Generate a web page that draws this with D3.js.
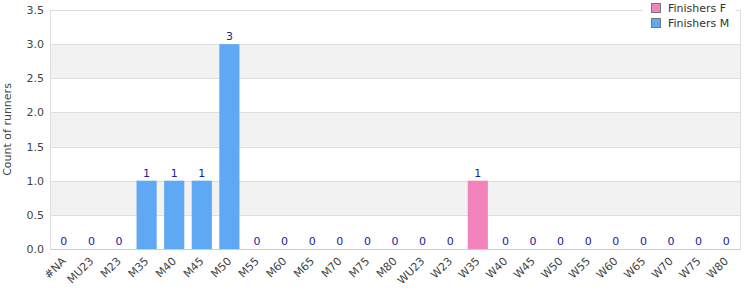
<!DOCTYPE html>
<html>
<head>
<meta charset="utf-8">
<script src="https://cdn.jsdelivr.net/npm/d3@7"></script>
<style>
  body { margin: 0; background: #fff; }
  text { font-family: "DejaVu Sans", sans-serif; }
</style>
</head>
<body>
<div id="chart"></div>
<script>
var categories = ['#NA', 'MU23', 'M23', 'M35', 'M40', 'M45', 'M50', 'M55', 'M60', 'M65', 'M70', 'M75', 'M80',
                  'WU23', 'W23', 'W35', 'W40', 'W45', 'W50', 'W55', 'W60', 'W65', 'W70', 'W75', 'W80'];
var finishersF = [0, 0, 0, 0, 0, 0, 0, 0, 0, 0, 0, 0, 0, 0, 0, 1, 0, 0, 0, 0, 0, 0, 0, 0, 0];
var finishersM = [0, 0, 0, 1, 1, 1, 3, 0, 0, 0, 0, 0, 0, 0, 0, 0, 0, 0, 0, 0, 0, 0, 0, 0, 0];
var yTicks = [0, 0.5, 1, 1.5, 2, 2.5, 3, 3.5];
var seriesNames = ['Finishers F', 'Finishers M'];
var seriesColors = ['#f283bb', '#5fa8f3'];

var width = 750, height = 300;
var margin = {top: 10, right: 10, bottom: 51, left: 50};
var chartW = width - margin.left - margin.right;
var chartH = height - margin.top - margin.bottom;

var svg = d3.select('#chart').append('svg')
    .attr('width', width).attr('height', height);
var inner = svg.append('g')
    .attr('transform', 'translate(' + margin.left + ',' + margin.top + ')');

var x = d3.scaleBand().domain(categories).range([0, chartW]).paddingInner(0.27).paddingOuter(0.135);
var y = d3.scaleLinear().domain([0, 3.5]).range([chartH, 0]);

// alternating bands
for (var i = 0; i < yTicks.length - 1; i++) {
  if (i % 2 === 1) {
    inner.append('rect')
      .attr('x', 0).attr('width', chartW)
      .attr('y', y(yTicks[i + 1])).attr('height', y(yTicks[i]) - y(yTicks[i + 1]))
      .attr('fill', '#f2f2f2');
  }
}

// grid lines
inner.append('g').selectAll('line').data(yTicks).enter().append('line')
  .attr('x1', 0).attr('x2', chartW)
  .attr('y1', function(d) { return Math.round(y(d)) + 0.5; })
  .attr('y2', function(d) { return Math.round(y(d)) + 0.5; })
  .attr('stroke', '#dedede');

// plot border
inner.append('rect')
  .attr('x', 0.5).attr('y', 0.5).attr('width', chartW).attr('height', chartH)
  .attr('fill', 'none').attr('stroke', '#dedede');

// stacked bars
var rows = categories.map(function(c, i) { return {cat: c, F: finishersF[i], M: finishersM[i]}; });
var stack = d3.stack().keys(['F', 'M'])(rows);
inner.append('g').selectAll('g').data(stack).enter().append('g')
  .attr('fill', function(d, i) { return seriesColors[i]; })
  .selectAll('rect').data(function(d) { return d; }).enter().append('rect')
  .attr('x', function(d) { return x(d.data.cat); })
  .attr('width', x.bandwidth())
  .attr('y', function(d) { return y(d[1]); })
  .attr('height', function(d) { return y(d[0]) - y(d[1]); });

// totals
inner.append('g').selectAll('text').data(rows).enter().append('text')
  .attr('x', function(d) { return x(d.cat) + x.bandwidth() / 2; })
  .attr('y', function(d) { return y(d.F + d.M) - 4; })
  .attr('text-anchor', 'middle')
  .attr('font-size', 11)
  .attr('fill', '#1a1a9c')
  .text(function(d) { return d.F + d.M; });

// y axis
var yAxis = d3.axisLeft(y).tickValues(yTicks).tickSize(0).tickPadding(6).tickFormat(d3.format('.1f'));
var gy = inner.append('g').call(yAxis);
gy.select('.domain').remove();
gy.selectAll('text').attr('font-size', 11).attr('fill', '#444').style('font-family', '"DejaVu Sans", sans-serif');

// x axis
var xAxis = d3.axisBottom(x).tickSize(0).tickPadding(6);
var gx = inner.append('g').attr('transform', 'translate(0,' + chartH + ')').call(xAxis);
gx.select('.domain').attr('stroke', '#cccccc');
gx.selectAll('text')
  .attr('font-size', 11).attr('fill', '#444').style('font-family', '"DejaVu Sans", sans-serif')
  .attr('text-anchor', 'end')
  .attr('x', 0).attr('y', 0)
  .attr('dy', '0.35em')
  .attr('transform', 'translate(0,10) rotate(-45)');

// y title
svg.append('text')
  .attr('transform', 'translate(7,' + (margin.top + chartH / 2) + ') rotate(-90)')
  .attr('text-anchor', 'middle')
  .attr('dy', '0.35em')
  .attr('font-size', 11).attr('fill', '#444')
  .text('Count of runners');

// legend
var legend = svg.append('g').attr('transform', 'translate(643,0)');
legend.append('rect').attr('x', 0).attr('y', 0).attr('width', 93).attr('height', 34).attr('fill', '#fff');
seriesNames.forEach(function(name, i) {
  var row = legend.append('g').attr('transform', 'translate(0,' + (i * 15) + ')');
  row.append('rect').attr('x', 8.5).attr('y', 3.5).attr('width', 9).attr('height', 9)
    .attr('fill', seriesColors[i]).attr('stroke', '#777');
  row.append('text').attr('x', 25).attr('y', 8).attr('dy', '0.35em')
    .attr('font-size', 11).attr('fill', '#333').text(name);
});
</script>
</body>
</html>
